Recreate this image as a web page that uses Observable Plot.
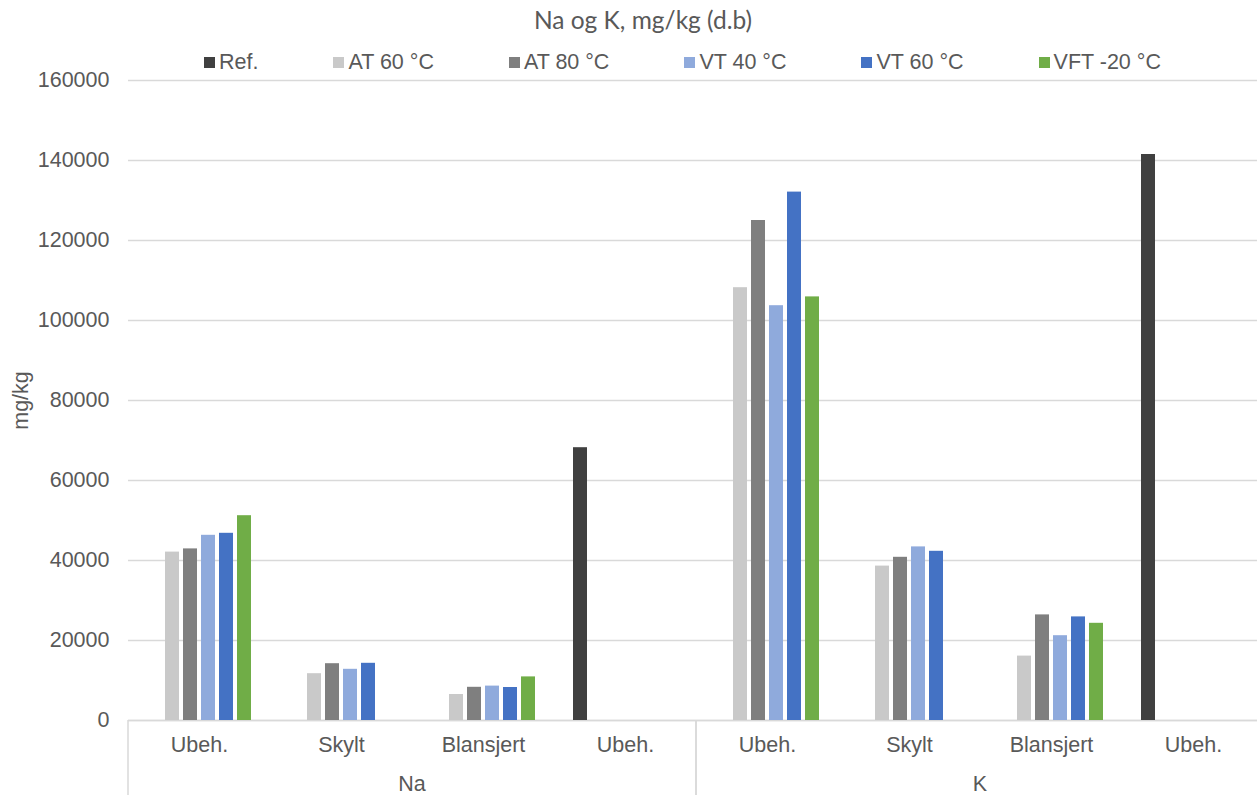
<!DOCTYPE html>
<html>
<head>
<meta charset="utf-8">
<script src="https://cdn.jsdelivr.net/npm/d3@7"></script>
<script src="https://cdn.jsdelivr.net/npm/@observablehq/plot@0.6"></script>
<style>
  html, body { margin: 0; padding: 0; background: #fff; overflow: hidden; }
  #wrap { position: relative; width: 1257px; height: 795px; overflow: hidden; }
  #header { position: relative; height: 68px; }
  #title { position: absolute; left: 643px; top: 5px; transform: translateX(-50%);
           font-family: Lato, 'Open Sans', sans-serif; font-size: 24.5px; color: #595959; white-space: nowrap; }
  #legend { position: absolute; left: 204px; top: 50px; display: flex; align-items: center;
            font-family: 'Liberation Sans', Arial, sans-serif; font-size: 21.5px; color: #595959; white-space: nowrap; }
  .item { display: flex; align-items: center; margin-right: 75px; }
  .sw { width: 11px; height: 11px; margin-right: 4px; }
  #chart { width: 1266px; }
  #chart svg { max-width: none !important; }
</style>
</head>
<body>
<div id="wrap">
  <div id="header">
    <div id="title">Na og K, mg/kg (d.b)</div>
    <div id="legend"></div>
  </div>
  <div id="chart"></div>
</div>
<script>
// ---- data ----
const series = ["Ref.", "AT 60 °C", "AT 80 °C", "VT 40 °C", "VT 60 °C", "VFT -20 °C"];
const colors = ["#404040", "#C9C9C9", "#7F7F7F", "#8FAADC", "#4472C4", "#70AD47"];
const groups = ["Na", "K"];
const treatments = ["Ubeh.", "Skylt", "Blansjert", "Ubeh."];
const yTicks = [0, 20000, 40000, 60000, 80000, 100000, 120000, 140000, 160000];

// values per category: Na(Ubeh., Skylt, Blansjert, Ubeh.), K(Ubeh., Skylt, Blansjert, Ubeh.)
const refValues  = [null, null, null, 68200, null, null, null, 141500];
const at60Values = [42100, 11700, 6500, null, 108200, 38600, 16100, null];
const at80Values = [42900, 14200, 8300, null, 125000, 40800, 26400, null];
const vt40Values = [46300, 12800, 8600, null, 103700, 43400, 21200, null];
const vt60Values = [46800, 14300, 8250, null, 132100, 42300, 25900, null];
const vftValues  = [51200, null, 10900, null, 105900, null, 24300, null];

const seriesValues = [refValues, at60Values, at80Values, vt40Values, vt60Values, vftValues];

// ---- build table ----
const cats = [];
groups.forEach((g) => treatments.forEach((t, ti) => cats.push(g + "|" + ti)));
const table = [];
series.forEach((s, si) => seriesValues[si].forEach((v, ci) => {
  if (v != null) table.push({cat: cats[ci], series: s, value: v});
}));

// ---- legend ----
const legend = document.getElementById("legend");
series.forEach((s, i) => {
  const it = document.createElement("div");
  it.className = "item";
  const sw = document.createElement("div");
  sw.className = "sw";
  sw.style.background = colors[i];
  const tx = document.createElement("span");
  tx.textContent = s;
  it.appendChild(sw); it.appendChild(tx);
  legend.appendChild(it);
});

// ---- chart ----
const H = 68;
const W = 1266;
const FS = 21.5;
const chart = Plot.plot({
  width: W,
  height: 795 - H,
  marginTop: 80 - H,
  marginBottom: 75,
  marginLeft: 128,
  marginRight: 2,
  style: {fontFamily: "'Liberation Sans', Arial, sans-serif", fontSize: FS + "px", color: "#595959",
          background: "white", overflow: "visible", maxWidth: "none"},
  fx: {domain: cats, padding: 0, label: null},
  x: {domain: series, paddingInner: 0.2, paddingOuter: 0.88, axis: null},
  y: {domain: [0, 160000]},
  color: {domain: series, range: colors},
  marks: [
    Plot.gridY(yTicks, {stroke: "#D9D9D9", strokeOpacity: 1, strokeWidth: 1.5}),
    Plot.ruleY([0], {stroke: "#D9D9D9", strokeWidth: 1.5}),
    Plot.barY(table, {fx: "cat", x: "series", y: "value", fill: "series"}),
    Plot.axisY(yTicks, {tickSize: 0, tickPadding: 19, tickFormat: d3.format("d"), label: "mg/kg",
      labelAnchor: "center", labelArrow: "none", labelOffset: 116, fill: "#595959"}),
    Plot.axisFx({anchor: "bottom", tickSize: 0, tickPadding: 16, label: null,
      tickFormat: (k) => treatments[+k.split("|")[1]], fill: "#595959"})
  ]
});
document.getElementById("chart").appendChild(chart);

// ---- group labels and separators from the fx scale ----
const fx = chart.scale("fx");
const svg = d3.select(chart);
const y = chart.scale("y");
const base = y.apply(0);
const bottom = 795 - H;
const g = svg.append("g");
groups.forEach((grp) => {
  const keys = cats.filter((k) => k.startsWith(grp + "|"));
  const x0 = fx.apply(keys[0]);
  const x1 = fx.apply(keys[keys.length - 1]) + fx.bandwidth;
  [x0, x1].forEach((xx) => {
    g.append("line").attr("x1", xx).attr("x2", xx).attr("y1", base).attr("y2", bottom)
      .attr("stroke", "#D9D9D9").attr("stroke-width", 1.5);
  });
  g.append("text").attr("x", (x0 + x1) / 2).attr("y", bottom - 4.5)
    .attr("text-anchor", "middle").attr("fill", "#595959")
    .attr("font-family", "'Liberation Sans', Arial, sans-serif").attr("font-size", FS)
    .text(grp);
});
</script>
</body>
</html>
